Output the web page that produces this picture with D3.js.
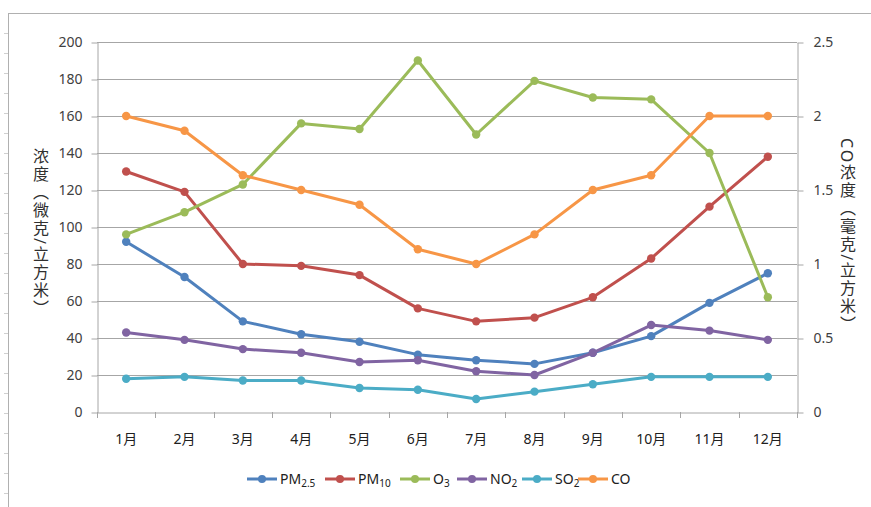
<!DOCTYPE html>
<html><head><meta charset="utf-8">
<script src="https://cdn.jsdelivr.net/npm/d3@7"></script>
<style>
html,body{margin:0;padding:0;background:#fff;}
svg{display:block;}
text{font-family:"Noto Sans","Noto Sans CJK SC",sans-serif;}
</style></head>
<body>
<svg id="c" width="871" height="507"></svg>
<script>
const months = ["1月","2月","3月","4月","5月","6月","7月","8月","9月","10月","11月","12月"];
const pm25 = [92, 73, 49, 42, 38, 31, 28, 26, 32, 41, 59, 75];
const pm10 = [130, 119, 80, 79, 74, 56, 49, 51, 62, 83, 111, 138];
const o3   = [96, 108, 123, 156, 153, 190, 150, 179, 170, 169, 140, 62];
const no2  = [43, 39, 34, 32, 27, 28, 22, 20, 32, 47, 44, 39];
const so2  = [18, 19, 17, 17, 13, 12, 7, 11, 15, 19, 19, 19];
const co   = [2.0, 1.9, 1.6, 1.5, 1.4, 1.1, 1.0, 1.2, 1.5, 1.6, 2.0, 2.0];
const leftTicks = [0, 20, 40, 60, 80, 100, 120, 140, 160, 180, 200];
const rightTicks = [0, 0.5, 1, 1.5, 2, 2.5];
const leftTitle = "浓度（微克/立方米）";
const rightTitle = "CO浓度（毫克/立方米）";

const series = [
  {key:"PM2.5", main:"PM", sub:"2.5", values:pm25, color:"#4F81BD", axis:"L"},
  {key:"PM10",  main:"PM", sub:"10",  values:pm10, color:"#C0504D", axis:"L"},
  {key:"O3",    main:"O",  sub:"3",   values:o3,   color:"#9BBB59", axis:"L"},
  {key:"NO2",   main:"NO", sub:"2",   values:no2,  color:"#8064A2", axis:"L"},
  {key:"SO2",   main:"SO", sub:"2",   values:so2,  color:"#4BACC6", axis:"L"},
  {key:"CO",    main:"CO", sub:"",    values:co,   color:"#F79646", axis:"R"}
];

const svg = d3.select("#c");
const L = 97, R = 797, T = 42, B = 412;
const grid = "#a6a6a6";

// outer frame
svg.append("line").attr("x1",8).attr("x2",871).attr("y1",13.5).attr("y2",13.5).attr("stroke","#b0b0b0");
svg.append("line").attr("x1",8.5).attr("x2",8.5).attr("y1",13).attr("y2",507).attr("stroke","#b0b0b0");
svg.append("g").selectAll("line").data(d3.range(33, 507, 20)).join("line")
  .attr("x1",4).attr("x2",8).attr("y1",d=>d+0.5).attr("y2",d=>d+0.5).attr("stroke","#d0d0d0");

const x = d3.scaleBand().domain(months).range([L, R]);
const yL = d3.scaleLinear().domain([0, 200]).range([B, T]);
const yR = d3.scaleLinear().domain([0, 2.5]).range([B, T]);

// gridlines
svg.append("g").selectAll("line").data(leftTicks.slice(1)).join("line")
  .attr("x1",L).attr("x2",R).attr("y1",d=>Math.round(yL(d))+0.5).attr("y2",d=>Math.round(yL(d))+0.5)
  .attr("stroke",grid).attr("stroke-width",1);

// left axis
const axL = svg.append("g").attr("transform",`translate(${L+0.5},0.5)`)
  .call(d3.axisLeft(yL).tickValues(leftTicks).tickSize(6).tickSizeOuter(0).tickPadding(9));
axL.select(".domain").attr("stroke",grid);
axL.selectAll(".tick line").attr("stroke",grid);
axL.selectAll("text").attr("font-size",14).attr("fill","#404040");

// right axis
const axR = svg.append("g").attr("transform",`translate(${R+0.5},0.5)`)
  .call(d3.axisRight(yR).tickValues(rightTicks).tickFormat(d3.format("~g")).tickSize(6).tickSizeOuter(0).tickPadding(10));
axR.select(".domain").attr("stroke",grid);
axR.selectAll(".tick line").attr("stroke",grid);
axR.selectAll("text").attr("font-size",14).attr("fill","#404040");

// bottom axis
const axB = svg.append("g").attr("transform",`translate(0,${B+0.5})`)
  .call(d3.axisBottom(x).tickSize(0).tickPadding(22));
axB.select(".domain").attr("stroke",grid);
axB.selectAll("text").attr("font-size",14).attr("fill","#202020").attr("font-family","'Noto Sans CJK SC',sans-serif");
svg.append("g").selectAll("line").data(d3.range(months.length+1)).join("line")
  .attr("x1",i=>Math.round(L + i*x.step())+0.5).attr("x2",i=>Math.round(L + i*x.step())+0.5)
  .attr("y1",B).attr("y2",B+6).attr("stroke",grid);

// axis titles (vertical writing)
svg.append("text").text(leftTitle)
  .attr("x",40).attr("y",233).attr("text-anchor","middle")
  .attr("font-family","'Noto Sans CJK SC',sans-serif").attr("font-size",16).attr("fill","#303030")
  .style("writing-mode","vertical-rl").style("letter-spacing","2px");
svg.append("text").text(rightTitle)
  .attr("x",847).attr("y",236).attr("text-anchor","middle")
  .attr("font-family","'Noto Sans CJK SC',sans-serif").attr("font-size",16).attr("fill","#303030")
  .style("writing-mode","vertical-rl").style("letter-spacing","2px");

// lines
const cx = d => x(d) + x.bandwidth()/2;
series.forEach(s => {
  const y = s.axis === "L" ? yL : yR;
  const line = d3.line().x((v,i)=>cx(months[i])).y(v=>y(v));
  svg.append("path").datum(s.values).attr("d",line)
    .attr("fill","none").attr("stroke",s.color).attr("stroke-width",3).attr("stroke-linejoin","round");
  svg.append("g").selectAll("circle").data(s.values).join("circle")
    .attr("cx",(v,i)=>cx(months[i])).attr("cy",v=>y(v)).attr("r",4.2).attr("fill",s.color);
});

// legend
const legendX = [247, 325, 400, 457, 522, 578];
const lg = svg.append("g").attr("transform","translate(0,479)");
series.forEach((s,i) => {
  const g = lg.append("g").attr("transform",`translate(${legendX[i]},0)`);
  g.append("line").attr("x1",0).attr("x2",30).attr("y1",0).attr("y2",0).attr("stroke",s.color).attr("stroke-width",3);
  g.append("circle").attr("cx",15).attr("cy",0).attr("r",4).attr("fill",s.color);
  const t = g.append("text").attr("x",33).attr("y",5).attr("font-size",14).attr("fill","#202020");
  t.append("tspan").text(s.main);
  if (s.sub) t.append("tspan").text(s.sub).attr("font-size",10).attr("dy",3);
});
</script>
</body></html>
